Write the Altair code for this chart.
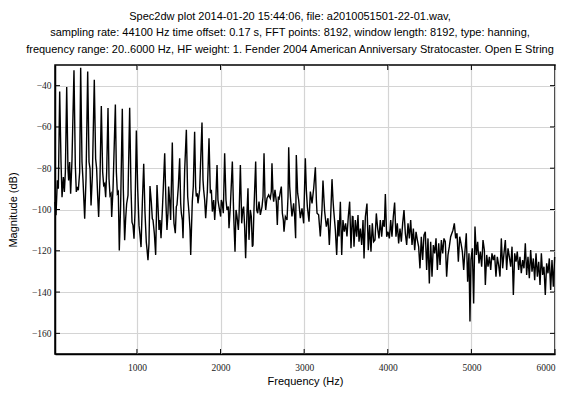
import altair as alt
import pandas as pd

# --- spectrum, segment by segment (Hz, dB) ---
freq_a = [20, 32, 48, 60, 76, 92, 104, 120, 132, 144, 160, 175, 183, 195, 207, 223, 247, 263, 275, 287,
          299, 315, 327, 343, 355, 375, 391, 411, 427, 439, 451, 467, 490, 506, 518, 530, 542, 558, 574, 590,
          602, 614, 626, 638, 654, 666, 678, 690, 698, 714, 742, 754, 766, 777, 789, 805, 825, 837, 853, 865,
          877, 893, 913, 929, 941, 953, 965, 977, 993, 1009, 1025, 1037, 1049, 1065, 1081, 1096, 1112, 1120,
          1132, 1144, 1156, 1172, 1184]
mag_a = [-96.4, -102.8, -85.9, -89.9, -42.8, -77.0, -94.0, -84.3, -91.5, -81.8, -40.7, -80.2, -85.9, -77.0,
         -92.3, -76.2, -32.6, -78.6, -91.5, -89.1, -90.7, -81.8, -31.3, -77.0, -85.9, -104.5, -85.1, -33.1,
         -77.0, -80.2, -98.0, -83.5, -37.1, -75.4, -80.2, -93.2, -103.6, -85.1, -49.9, -81.8, -88.3, -87.5,
         -94.0, -81.8, -50.8, -85.1, -93.2, -92.3, -103.6, -89.9, -49.1, -81.8, -92.3, -91.5, -119.8, -98.0,
         -51.2, -89.9, -114.9, -104.5, -97.2, -93.2, -50.7, -89.9, -106.1, -107.7, -114.1, -101.2, -61.7,
         -89.9, -107.7, -112.5, -118.2, -96.4, -77.8, -101.2, -115.8, -119.0, -124.6, -116.6, -88.6, -96.4,
         -104.5]

freq_b = [1192, 1208, 1224, 1240, 1252, 1264, 1276, 1288, 1304, 1316, 1332, 1347, 1359, 1371, 1379, 1391,
          1403, 1423, 1435, 1443, 1459, 1471, 1479, 1495, 1511, 1523, 1531, 1543, 1551, 1571, 1591, 1607,
          1623, 1635, 1643, 1662, 1674, 1690, 1702, 1710, 1722, 1730, 1750, 1778, 1790, 1798, 1810, 1822,
          1842, 1862, 1878, 1890, 1902, 1918, 1930, 1942, 1958, 1969, 1981, 2001, 2009, 2021, 2033, 2049,
          2065, 2077, 2093, 2101, 2117, 2141, 2157, 2173, 2185, 2197, 2213, 2221, 2237, 2253, 2265, 2276,
          2288, 2300, 2316, 2328, 2340, 2356, 2368, 2380]
mag_b = [-105.1, -111.5, -122.0, -88.1, -98.6, -109.9, -105.1, -113.9, -100.2, -88.9, -72.8, -97.0, -109.9,
         -101.8, -88.9, -95.4, -105.1, -67.6, -98.6, -106.7, -111.5, -98.6, -97.8, -88.9, -75.2, -97.0,
         -101.8, -105.1, -113.9, -80.8, -61.4, -93.7, -101.8, -109.9, -122.0, -96.2, -88.9, -62.3, -88.9,
         -93.7, -92.1, -97.0, -90.5, -57.9, -85.7, -90.5, -95.4, -104.2, -91.3, -65.5, -92.1, -90.5, -101.0,
         -95.4, -105.1, -97.0, -78.4, -95.4, -98.6, -103.4, -95.4, -97.0, -101.8, -72.8, -95.4, -100.2,
         -98.6, -109.1, -98.6, -76.8, -102.6, -120.4, -100.2, -103.4, -109.9, -103.4, -78.4, -106.7, -100.2,
         -98.6, -108.3, -123.6, -101.8, -89.7, -114.7, -100.2, -103.4, -118.0]

freq_c = [2388, 2400, 2420, 2432, 2444, 2460, 2476, 2496, 2508, 2520, 2532, 2540, 2555, 2575, 2595, 2607,
          2615, 2627, 2635, 2651, 2667, 2679, 2691, 2699, 2715, 2727, 2739, 2751, 2759, 2775, 2795, 2807,
          2815, 2827, 2835, 2854, 2874, 2886, 2898, 2906, 2922, 2934, 2954, 2974, 2994, 3014, 3026, 3038,
          3058, 3074, 3094, 3114, 3134, 3146, 3154, 3173, 3193, 3213, 3225, 3237, 3245, 3265, 3285, 3301,
          3317, 3333, 3345, 3353, 3373, 3389, 3405, 3417, 3433, 3449, 3464, 3480, 3496, 3512, 3528, 3544,
          3560, 3576]
mag_c = [-117.2, -99.4, -76.8, -100.2, -101.8, -96.2, -102.6, -98.6, -93.7, -72.8, -95.4, -100.2, -94.6,
         -92.9, -94.6, -91.3, -77.6, -92.1, -96.2, -90.5, -96.2, -107.5, -93.7, -95.4, -91.3, -88.9, -101.8,
         -105.1, -110.7, -103.4, -105.1, -93.7, -69.8, -88.9, -93.7, -103.4, -97.0, -103.4, -113.9, -73.6,
         -92.1, -95.4, -104.2, -99.4, -106.7, -75.2, -90.5, -98.6, -105.9, -91.3, -97.0, -89.7, -79.5, -95.4,
         -101.8, -102.6, -113.1, -100.2, -86.0, -95.4, -101.0, -108.3, -104.2, -117.2, -103.4, -85.3, -95.4,
         -100.2, -109.9, -122.0, -105.1, -113.1, -96.2, -122.0, -105.1, -110.7, -106.7, -113.1, -103.4,
         -96.2, -118.8, -103.4]

freq_d = [3584, 3596, 3612, 3628, 3644, 3656, 3672, 3688, 3704, 3716, 3732, 3751, 3767, 3783, 3799, 3815,
          3831, 3847, 3863, 3879, 3895, 3911, 3927, 3943, 3959, 3971, 3987, 4003, 4019, 4035, 4050, 4066,
          4082, 4098, 4114, 4130, 4146, 4162, 4178, 4194, 4210, 4226, 4242, 4258, 4274, 4290, 4306, 4322,
          4338, 4354, 4369, 4385, 4401, 4417, 4433, 4449, 4465, 4481, 4497, 4513, 4529, 4545, 4561, 4577,
          4593, 4609, 4625, 4641, 4657, 4672, 4688, 4704, 4720, 4736, 4752]
mag_d = [-103.5, -118.0, -105.1, -113.2, -102.7, -115.6, -109.2, -117.2, -105.1, -123.7, -103.5, -97.1,
         -119.7, -107.5, -120.5, -106.7, -115.6, -114.8, -101.9, -109.2, -114.0, -105.1, -113.2, -105.1,
         -108.4, -92.5, -113.2, -110.8, -114.0, -105.1, -113.2, -103.5, -96.6, -113.2, -106.7, -116.4,
         -109.2, -115.6, -106.7, -100.3, -111.6, -117.2, -106.7, -114.0, -105.1, -117.2, -109.2, -119.7,
         -110.8, -114.8, -118.0, -128.5, -113.2, -124.5, -112.4, -110.8, -129.3, -114.0, -135.8, -115.6,
         -132.6, -117.2, -121.3, -114.0, -129.3, -116.4, -126.9, -114.8, -121.3, -114.0, -115.6, -132.6,
         -122.1, -118.0, -113.2]

freq_e = [4780, 4796, 4812, 4828, 4844, 4860, 4876, 4892, 4908, 4924, 4939, 4955, 4971, 4983, 4995, 5011,
          5027, 5043, 5059, 5075, 5091, 5107, 5123, 5139, 5155, 5167, 5183, 5199, 5215, 5231, 5246, 5262,
          5278, 5294, 5310, 5326, 5342, 5358, 5374, 5390, 5406, 5422, 5438, 5454, 5470, 5486, 5502, 5518,
          5534, 5549, 5565, 5581, 5597, 5613, 5629, 5645, 5661, 5677, 5693, 5709, 5725, 5741, 5757, 5773,
          5789, 5805, 5821, 5837, 5852, 5868, 5884, 5900, 5916, 5932, 5948, 5964, 5980, 5996]
mag_e = [-110.0, -106.7, -114.0, -111.5, -125.3, -113.2, -116.4, -120.4, -129.3, -119.6, -111.5, -135.0,
         -121.2, -154.3, -124.5, -118.8, -145.5, -108.3, -122.0, -115.6, -126.1, -120.4, -127.7, -114.8,
         -119.6, -136.6, -122.0, -127.7, -122.9, -129.3, -121.2, -124.5, -122.0, -132.5, -122.9, -126.9,
         -132.5, -114.0, -128.5, -121.2, -114.8, -129.3, -118.8, -122.9, -127.7, -118.0, -141.4, -121.2,
         -125.3, -120.4, -129.3, -122.9, -130.9, -124.5, -128.5, -116.4, -131.7, -122.9, -133.3, -119.6,
         -130.1, -123.7, -134.2, -121.2, -132.5, -125.3, -136.6, -121.2, -131.7, -127.7, -141.4, -126.1,
         -130.9, -123.7, -139.0, -124.5, -137.4, -123.0]

x_ticks = [1000, 2000, 3000, 4000, 5000, 6000]
y_ticks = [-40, -60, -80, -100, -120, -140, -160]

title_lines = [
    "Spec2dw plot 2014-01-20 15:44:06, file: a2010051501-22-01.wav,",
    "sampling rate: 44100 Hz time offset: 0.17 s, FFT points: 8192, window length: 8192, type: hanning,",
    "frequency range: 20..6000 Hz, HF weight: 1. Fender 2004 American Anniversary Stratocaster. Open E String",
]

df = pd.DataFrame({
    "f": freq_a + freq_b + freq_c + freq_d + freq_e,
    "m": mag_a + mag_b + mag_c + mag_d + mag_e,
})
xt = pd.DataFrame({"f": x_ticks})
yt = pd.DataFrame({"m": y_ticks})

W, H = 500, 289
xs = alt.Scale(domain=[20, 6000], nice=False, zero=False)
ys = alt.Scale(domain=[-170, -30], nice=False, zero=False)
x_axis = alt.Axis(values=x_ticks, title="Frequency (Hz)", labelPadding=8, titlePadding=4, format="d")
y_axis = alt.Axis(values=y_ticks, title="Magnitude (dB)", labelPadding=4, titlePadding=13)

X = alt.X("f:Q", scale=xs, axis=x_axis)
Y = alt.Y("m:Q", scale=ys, axis=y_axis)

line = alt.Chart(df).mark_line(color="black", strokeWidth=1.4).encode(x=X, y=Y, order="f:Q")

tick_len = 5
top_ticks = alt.Chart(xt).mark_rule(color="black", strokeWidth=1).encode(
    x=X, y=alt.value(0), y2=alt.value(tick_len))
bot_ticks = alt.Chart(xt).mark_rule(color="black", strokeWidth=1).encode(
    x=X, y=alt.value(H), y2=alt.value(H - tick_len))
right_ticks = alt.Chart(yt).mark_rule(color="black", strokeWidth=1).encode(
    y=Y, x=alt.value(W), x2=alt.value(W - tick_len))
left_ticks = alt.Chart(yt).mark_rule(color="black", strokeWidth=1).encode(
    y=Y, x=alt.value(0), x2=alt.value(tick_len))

chart = alt.layer(line, top_ticks, bot_ticks, right_ticks, left_ticks).properties(
    width=W, height=H,
    title=alt.TitleParams(text=title_lines, offset=10, dx=-15),
    autosize=alt.AutoSizeParams(type="none"),
    padding={"left": 47, "top": 57, "right": 3, "bottom": 36},
).configure_view(
    stroke="black", strokeWidth=1.5
).configure_axis(
    grid=True, gridColor="#d4d4d4", gridWidth=1.2,
    domain=True, domainColor="black", domainWidth=1.5,
    ticks=False,
    labelFont="Liberation Serif", labelFontSize=9.5, labelColor="#222222",
    titleFont="Liberation Sans", titleFontSize=11, titleFontWeight="normal", titleColor="black",
).configure_title(
    font="Liberation Sans", fontSize=11, fontWeight="normal", lineHeight=16.5,
    anchor="middle", color="black",
)

chart.save("out.html", embed_options={"renderer": "svg", "actions": False})
